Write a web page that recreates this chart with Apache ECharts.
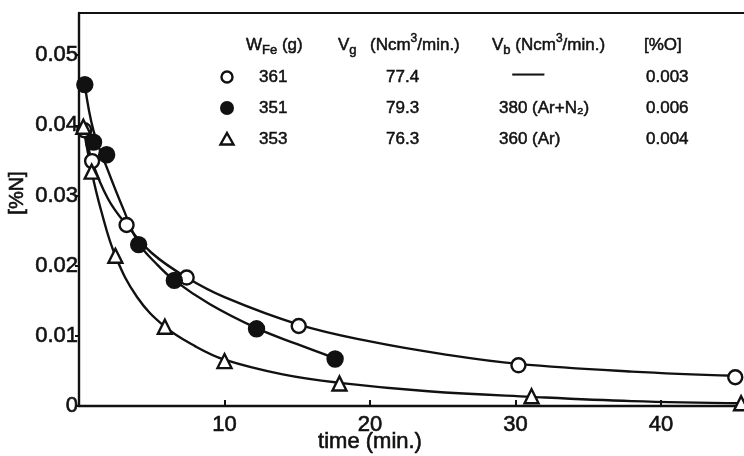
<!DOCTYPE html>
<html>
<head>
<meta charset="utf-8">
<script src="https://cdn.jsdelivr.net/npm/echarts@6/dist/echarts.min.js"></script>
<style>
  html, body { margin: 0; padding: 0; background: #fff; }
  #chart { width: 744px; height: 456px; }
</style>
</head>
<body>
<div id="chart"></div>
<script>
// Nitrogen content [%N] versus time for three melts (measured points)
var openTime   = [0.36, 0.9, 3.27, 7.4, 15.1, 30.2, 45.1];
var openN      = [0.0393, 0.0349, 0.0258, 0.0183, 0.0114, 0.0058, 0.0041];

var filledTime = [0.4, 1.0, 1.9, 4.1, 6.55, 12.2, 17.6];
var filledN    = [0.0458, 0.0376, 0.0358, 0.0230, 0.0179, 0.0110, 0.0067];

var triTime    = [0.3, 0.87, 2.5, 5.9, 10.0, 17.9, 31.1, 45.5];
var triN       = [0.0398, 0.0334, 0.0214, 0.0113, 0.0064, 0.0032, 0.0014, 0.0004];

// Hand-drawn decay curves through each run, sampled along the drawn line
var openCurveTime   = [0.3, 0.9, 2.0, 3.27, 5.0, 7.4, 10.0, 15.1, 20.0, 25.0, 30.2, 38.0, 45.1];
var openCurveN      = [0.0400, 0.0349, 0.0295, 0.0258, 0.0218, 0.0183, 0.0155, 0.0116, 0.0092, 0.0074, 0.0060, 0.0049, 0.0043];

var filledCurveTime = [0.4, 1.0, 2.0, 3.0, 4.1, 5.3, 6.55, 9.0, 12.2, 15.0, 17.6];
var filledCurveN    = [0.0458, 0.0392, 0.0335, 0.0283, 0.0232, 0.0203, 0.0179, 0.0145, 0.0111, 0.0088, 0.0068];

var triCurveTime    = [0.3, 0.87, 1.5, 2.5, 4.0, 5.9, 8.0, 10.0, 14.0, 17.9, 24.0, 31.1, 38.0, 45.7];
var triCurveN       = [0.0398, 0.0334, 0.0280, 0.0214, 0.0155, 0.0113, 0.0085, 0.0066, 0.0045, 0.0033, 0.0021, 0.0013, 0.0007, 0.0004];

var xTicks = [10, 20, 30, 40];
var yTicks = [0, 0.01, 0.02, 0.03, 0.04, 0.05];

// Run conditions table
var massFe     = ['361', '351', '353'];
var gasFlow    = ['77.4', '79.3', '76.3'];
var bubbleFlow = ['\u2014', '380 (Ar+N\u2082)', '360 (Ar)'];
var oxygen     = ['0.003', '0.006', '0.004'];

function zip(a, b) { return a.map(function (v, i) { return [v, b[i]]; }); }

var FONT = 'Liberation Sans';
var INK = '#111';
// a thin outline in the ink colour gives the lettering a slightly heavier stroke
var HEAVY_LABEL = { textBorderColor: INK, textBorderWidth: 0.6 };   // axis label option form
var HEAVY_TEXT = { stroke: INK, lineWidth: 0.6 };                   // graphic text style form

var chart = echarts.init(document.getElementById('chart'), null, { renderer: 'canvas' });

function curveSeries(data) {
  return {
    type: 'line', data: data, smooth: 0.4, symbol: 'none',
    lineStyle: { color: INK, width: 2.4 },
    emphasis: { disabled: true }, silent: true, z: 2, animation: false
  };
}

function pointSeries(name, data, symbol, size, fill) {
  return {
    name: name, type: 'scatter', data: data, symbol: symbol, symbolSize: size,
    itemStyle: { color: fill, borderColor: INK, borderWidth: 2.4, opacity: 1 },
    emphasis: { disabled: true }, z: 3, animation: false
  };
}

// table layout
var rowY = [77, 108, 139];
var headY = 45;
var tableFont = 17;
var graphics = [];

function tok(size, va) {
  return { fontSize: size, fontFamily: FONT, fill: INK, verticalAlign: va, stroke: INK, lineWidth: 0.5 };
}
var richBase = { n: tok(tableFont, 'middle'), sub: tok(13, 'bottom'), sup: tok(12, 'top') };

function richTxt(x, y, s) {
  return {
    type: 'text', x: x, y: y,
    style: { text: s, rich: richBase, lineHeight: 24, verticalAlign: 'middle', align: 'left', fill: INK,
             fontSize: tableFont, fontFamily: FONT, stroke: INK, lineWidth: 0.5 }
  };
}

graphics.push(richTxt(246, headY, '{n|W}{sub|Fe}{n| (g)}'));
graphics.push(richTxt(338, headY, '{n|V}{sub|g}'));
graphics.push(richTxt(370, headY, '{n|(Ncm}{sup|3}{n|/min.)}'));
graphics.push(richTxt(492, headY, '{n|V}{sub|b}{n| (Ncm}{sup|3}{n|/min.)}'));
graphics.push(richTxt(644, headY, '{n|[%O]}'));

// table markers
graphics.push({ type: 'circle', shape: { cx: 227, cy: rowY[0], r: 5.5 },
  style: { fill: '#fff', stroke: INK, lineWidth: 2.4 } });
graphics.push({ type: 'circle', shape: { cx: 227, cy: rowY[1], r: 7 },
  style: { fill: INK } });
graphics.push({ type: 'polygon', shape: { points: [[227, rowY[2] - 6], [233.5, rowY[2] + 5.5], [220.5, rowY[2] + 5.5]] },
  style: { fill: '#fff', stroke: INK, lineWidth: 2.4 } });

for (var r = 0; r < 3; r++) {
  var y = rowY[r];
  graphics.push(richTxt(259, y, '{n|' + massFe[r] + '}'));
  graphics.push(richTxt(386, y, '{n|' + gasFlow[r] + '}'));
  if (bubbleFlow[r] === '\u2014') {
    graphics.push({ type: 'text', x: 513, y: y - 3, scaleX: 1.8,
      style: { text: bubbleFlow[r], fontSize: tableFont, fontFamily: FONT, fill: INK, verticalAlign: 'middle',
               stroke: INK, lineWidth: 0.9 } });
  } else {
    graphics.push(richTxt(499, y, '{n|' + bubbleFlow[r] + '}'));
  }
  graphics.push(richTxt(646, y, '{n|' + oxygen[r] + '}'));
}

// axis titles
graphics.push({ type: 'text', x: 17, y: 193, rotation: Math.PI / 2,
  style: Object.assign({ text: '[%N]', fontSize: 20, fontFamily: FONT, fill: INK, align: 'center', verticalAlign: 'middle' }, HEAVY_TEXT) });
graphics.push({ type: 'text', x: 370, y: 442,
  style: Object.assign({ text: 'time (min.)', fontSize: 22, fontFamily: FONT, fill: INK, align: 'center', verticalAlign: 'middle' }, HEAVY_TEXT) });

var option = {
  backgroundColor: '#fff',
  animation: false,
  grid: { left: 79, right: 0, top: 13, bottom: 50, containLabel: false },
  xAxis: [{
    type: 'value', min: 0, max: 45.7, interval: 10,
    axisLine: { show: true, lineStyle: { color: INK, width: 2.4 } },
    axisTick: { show: true, inside: true, length: 6, lineStyle: { color: INK, width: 2 }, customValues: xTicks },
    axisLabel: Object.assign({ show: true, margin: 8, fontSize: 22, fontFamily: FONT, color: INK, customValues: xTicks }, HEAVY_LABEL),
    splitLine: { show: false }
  }, {
    type: 'value', position: 'top', min: 0, max: 45.7,
    axisLine: { show: true, lineStyle: { color: INK, width: 2.2 } },
    axisTick: { show: false }, axisLabel: { show: false }, splitLine: { show: false }
  }],
  yAxis: {
    type: 'value', min: 0, max: 0.056, interval: 0.01,
    axisLine: { show: true, lineStyle: { color: INK, width: 2.4 } },
    axisTick: { show: true, inside: false, length: 4, lineStyle: { color: INK, width: 2 }, customValues: yTicks },
    axisLabel: Object.assign({ show: true, margin: 1, fontSize: 22, fontFamily: FONT, color: INK, customValues: yTicks,
      formatter: function (v) { return v === 0 ? '0' : v.toFixed(2); } }, HEAVY_LABEL),
    splitLine: { show: false }
  },
  series: [
    curveSeries(zip(openCurveTime, openCurveN)),
    curveSeries(zip(filledCurveTime, filledCurveN)),
    curveSeries(zip(triCurveTime, triCurveN)),
    pointSeries('361 g', zip(openTime, openN), 'circle', 14, '#fff'),
    pointSeries('351 g', zip(filledTime, filledN), 'circle', 15, INK),
    pointSeries('353 g', zip(triTime, triN), 'triangle', 14, '#fff')
  ],
  graphic: graphics
};

chart.setOption(option);
</script>
</body>
</html>
